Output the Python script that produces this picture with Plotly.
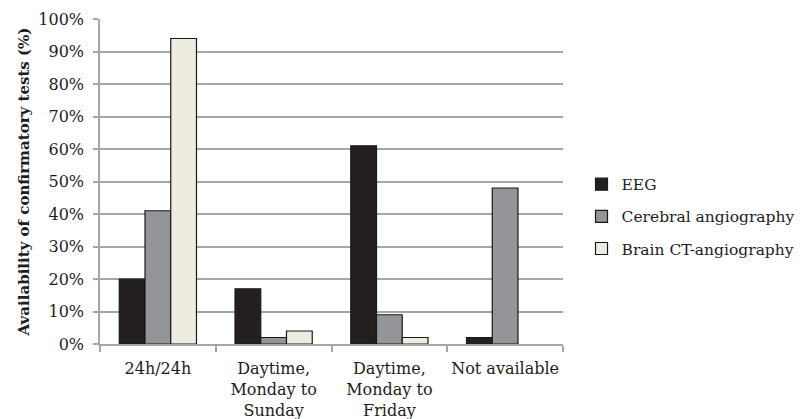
import plotly.graph_objects as go

categories = ["24h/24h", "Daytime,<br>Monday to<br>Sunday", "Daytime,<br>Monday to<br>Friday", "Not available"]
eeg = [20, 17, 61, 2]
cerebral = [41, 2, 9, 48]
brain_ct = [94, 4, 2, 0]
y_ticks = [0, 10, 20, 30, 40, 50, 60, 70, 80, 90, 100]
y_tick_labels = [f"{v}%" for v in y_ticks]

FONT = "DejaVu Serif"
GRID = "#a6a6a6"
TXT = "#1f1c1d"

fig = go.Figure()
series = [("EEG", eeg, "#231f20"), ("Cerebral angiography", cerebral, "#939598"), ("Brain CT-angiography", brain_ct, "#eeece1")]
for name, vals, col in series:
    fig.add_trace(go.Bar(
        x=categories, y=vals, name=name, legendgroup=name,
        marker=dict(color=col, line=dict(color="#1a1a1a",
                                         width=[1.2 if v > 0 else 0 for v in vals])),
    ))

fig.update_layout(
    width=812, height=419,
    margin=dict(l=100, r=222, t=19, b=75),
    paper_bgcolor="white", plot_bgcolor="white",
    barmode="group", bargap=0.333, bargroupgap=0,
    font=dict(family=FONT, size=16, color=TXT),
    showlegend=True,
    legend=dict(x=1.04, xanchor="left", y=0.392, yanchor="middle",
                font=dict(family=FONT, size=15.5, color=TXT),
                tracegroupgap=9, bgcolor="rgba(0,0,0,0)"),
)
fig.update_xaxes(
    automargin=False, tickangle=0,
    showline=True, linecolor=GRID, linewidth=1.5,
    ticks="outside", tickson="boundaries", ticklen=6, tickcolor=GRID, tickwidth=1.5,
    ticklabelstandoff=9,
    tickfont=dict(family=FONT, size=16, color=TXT),
    showgrid=False,
)
fig.update_yaxes(
    automargin=False,
    range=[0, 100], tickvals=y_ticks, ticktext=y_tick_labels,
    showline=True, linecolor=GRID, linewidth=1.5,
    ticks="outside", ticklen=5, tickcolor=GRID, tickwidth=1.5,
    ticklabelstandoff=6,
    showgrid=True, gridcolor=GRID, gridwidth=1.5, zeroline=False,
    tickfont=dict(family=FONT, size=16, color=TXT),
    title=dict(text="<b>Availability of confirmatory tests (%)</b>", standoff=5,
               font=dict(family=FONT, size=15, color=TXT)),
)

fig.write_html("out.html")
